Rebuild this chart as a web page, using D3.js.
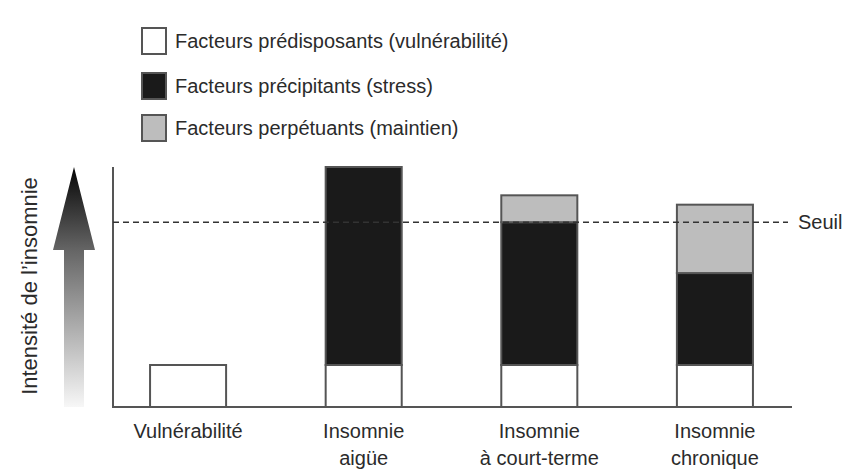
<!DOCTYPE html>
<html>
<head>
<meta charset="utf-8">
<script src="https://cdn.jsdelivr.net/npm/d3@7"></script>
<style>
    body { margin: 0; background: #fff; }
    text { font-family: "Liberation Sans", Arial, Helvetica, sans-serif; fill: #2b2b2b; }
</style>
</head>
<body>
<div id="chart"></div>
<script>
// categories (multi-line labels)
const categories = ["Vulnérabilité", "Insomnie aigüe", "Insomnie court", "Insomnie chronique"];
const categoryLines = [["Vulnérabilité"], ["Insomnie", "aigüe"], ["Insomnie", "à court-terme"], ["Insomnie", "chronique"]];

// series, stacked bottom to top
const seriesNames = ["Facteurs prédisposants (vulnérabilité)", "Facteurs précipitants (stress)", "Facteurs perpétuants (maintien)"];
const seriesColors = ["#ffffff", "#1a1a1a", "#bdbdbd"];
const predisposants = [1.75, 1.75, 1.75, 1.75];
const precipitants = [0, 8.25, 5.95, 3.83];
const perpetuants = [0, 0, 1.12, 2.85];

const seuil = 7.7;
const yMax = 10;

const width = 845;
const height = 475;

const svg = d3.select("#chart")
    .append("svg")
    .attr("width", width)
    .attr("height", height);

const x = d3.scaleBand()
    .domain(categories)
    .range([113, 790])
    .paddingInner(0.567)
    .paddingOuter(0.211);

const y = d3.scaleLinear()
    .domain([0, yMax])
    .range([407, 167]);

// stacked data
const table = categories.map((c, i) => ({
    cat: c,
    s0: predisposants[i],
    s1: precipitants[i],
    s2: perpetuants[i]
}));
const stack = d3.stack().keys(["s0", "s1", "s2"])(table);

stack.forEach((layer, k) => {
    svg.append("g")
        .selectAll("rect")
        .data(layer.filter(d => d[1] - d[0] > 0))
        .enter()
        .append("rect")
        .attr("x", d => x(d.data.cat))
        .attr("y", d => y(d[1]))
        .attr("width", x.bandwidth())
        .attr("height", d => y(d[0]) - y(d[1]))
        .attr("fill", seriesColors[k])
        .attr("stroke", "#555")
        .attr("stroke-width", 2);
});

// axes
svg.append("line")
    .attr("x1", 113).attr("x2", 113)
    .attr("y1", y(yMax)).attr("y2", y(0))
    .attr("stroke", "#555").attr("stroke-width", 2);
svg.append("line")
    .attr("x1", 112).attr("x2", 792)
    .attr("y1", y(0)).attr("y2", y(0))
    .attr("stroke", "#555").attr("stroke-width", 2);

// seuil
svg.append("line")
    .attr("x1", 113).attr("x2", 788)
    .attr("y1", y(seuil)).attr("y2", y(seuil))
    .attr("stroke", "#333")
    .attr("stroke-width", 1.5)
    .attr("stroke-dasharray", "6,4");
svg.append("text")
    .attr("x", 798)
    .attr("y", y(seuil) + 7)
    .attr("font-size", 20)
    .text("Seuil");

// category labels
categoryLines.forEach((lines, i) => {
    const t = svg.append("text")
        .attr("text-anchor", "middle")
        .attr("font-size", 20);
    lines.forEach((l, j) => {
        t.append("tspan")
            .attr("x", x(categories[i]) + x.bandwidth() / 2)
            .attr("y", 438 + j * 27)
            .text(l);
    });
});

// gradient arrow
const grad = svg.append("defs").append("linearGradient")
    .attr("id", "arrowGrad")
    .attr("x1", 0).attr("y1", 0).attr("x2", 0).attr("y2", 1);
grad.append("stop").attr("offset", "0%").attr("stop-color", "#050505");
grad.append("stop").attr("offset", "35%").attr("stop-color", "#666");
grad.append("stop").attr("offset", "100%").attr("stop-color", "#f7f7f7");

svg.append("path")
    .attr("d", d3.line()([[74, 167], [95, 250], [84, 250], [84, 407], [64, 407], [64, 250], [53, 250]]) + "Z")
    .attr("fill", "url(#arrowGrad)");

svg.append("text")
    .attr("transform", "translate(37,286) rotate(-90)")
    .attr("text-anchor", "middle")
    .attr("font-size", 22)
    .text("Intensité de l’insomnie");

// legend
const legendTop = [28, 73, 115];
seriesNames.forEach((name, i) => {
    svg.append("rect")
        .attr("x", 142)
        .attr("y", legendTop[i])
        .attr("width", 24)
        .attr("height", 26)
        .attr("fill", seriesColors[i])
        .attr("stroke", "#555")
        .attr("stroke-width", 2);
    svg.append("text")
        .attr("x", 175)
        .attr("y", legendTop[i] + 20)
        .attr("font-size", 20)
        .text(name);
});
</script>
</body>
</html>
